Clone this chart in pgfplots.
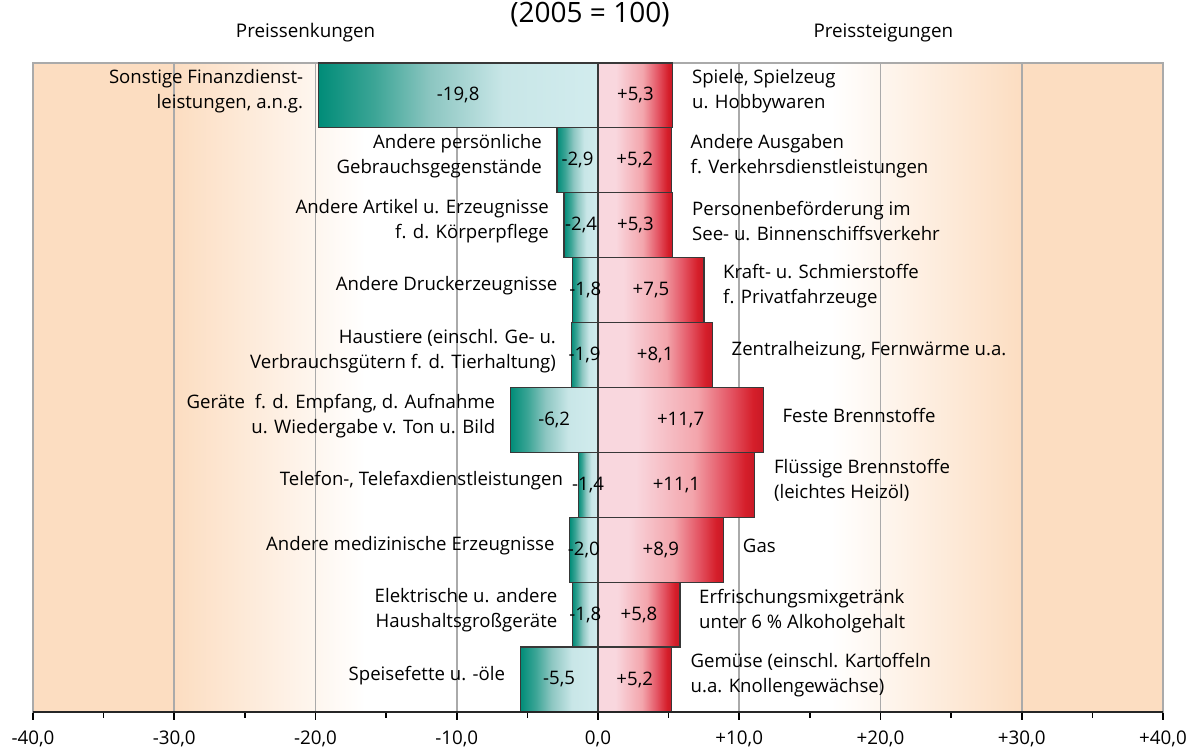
\documentclass[border=0pt]{standalone}
\usepackage{fontspec}
\setmainfont{Open Sans}
\usepackage{pgfplots}
\usepackage{pgfplotstable}
\pgfplotsset{compat=1.18}

\definecolor{tealA}{RGB}{0,140,120}
\definecolor{tealB}{RGB}{60,165,150}
\definecolor{tealM}{RGB}{140,198,193}
\definecolor{cyanL}{RGB}{200,230,231}
\definecolor{cyanE}{RGB}{210,236,238}
\definecolor{pinkL}{RGB}{249,215,222}
\definecolor{pinkM}{RGB}{243,165,172}
\definecolor{pinkD}{RGB}{228,85,100}
\definecolor{redA}{RGB}{213,30,42}
\definecolor{redD}{RGB}{200,25,38}
\definecolor{peach}{RGB}{252,221,193}
\definecolor{gridgray}{RGB}{170,170,170}

\pgfdeclarehorizontalshading{negbar}{100bp}{color(0bp)=(tealA); color(25bp)=(tealA); color(35bp)=(tealB); color(45bp)=(tealM); color(58bp)=(cyanL); color(75bp)=(cyanE); color(100bp)=(cyanE)}
\pgfdeclarehorizontalshading{posbar}{100bp}{color(0bp)=(pinkL); color(37bp)=(pinkL); color(55bp)=(pinkM); color(65bp)=(pinkD); color(72bp)=(redA); color(75bp)=(redD); color(100bp)=(redD)}

\newcommand\lbl{\fontsize{9.3}{12.5}\selectfont}

\pgfplotstableread[col sep=semicolon]{
row;neg;pos;left;right
10;-19.8;5.3;Sonstige Finanzdienst-\\leistungen, a.n.g.;Spiele, Spielzeug\\u. Hobbywaren
9;-2.9;5.2;Andere persönliche\\Gebrauchsgegenstände;Andere Ausgaben\\f. Verkehrsdienstleistungen
8;-2.4;5.3;Andere Artikel u. Erzeugnisse\\f. d. Körperpflege;Personenbeförderung im\\See- u. Binnenschiffsverkehr
7;-1.8;7.5;Andere Druckerzeugnisse;Kraft- u. Schmierstoffe\\f. Privatfahrzeuge
6;-1.9;8.1;Haustiere (einschl. Ge- u.\\Verbrauchsgütern f. d. Tierhaltung);Zentralheizung, Fernwärme u.a.
5;-6.2;11.7;Geräte\ \ f. d. Empfang, d. Aufnahme\\u. Wiedergabe v. Ton u. Bild;Feste Brennstoffe
4;-1.4;11.1;Telefon-, Telefaxdienstleistungen;Flüssige Brennstoffe\\(leichtes Heizöl)
3;-2.0;8.9;Andere medizinische Erzeugnisse;Gas
2;-1.8;5.8;Elektrische u. andere\\Haushaltsgroßgeräte;Erfrischungsmixgetränk\\unter 6 \% Alkoholgehalt
1;-5.5;5.2;Speisefette u. -öle;Gemüse (einschl. Kartoffeln\\u.a. Knollengewächse)
}\data

\begin{document}
\begin{tikzpicture}
\begin{axis}[
  at={(0,0)}, anchor=south west,
  scale only axis, width=565pt, height=324.5pt,
  set layers, clip=false,
  xmin=-40, xmax=40, ymin=0.5, ymax=10.5,
  xtick={-40,-30,...,40},
  xticklabels={{-40,0},{-30,0},{-20,0},{-10,0},{0,0},{+10,0},{+20,0},{+30,0},{+40,0}},
  minor xtick={-35,-25,...,35},
  ytick=\empty,
  xtick pos=left,
  tick align=outside,
  major tick length=4pt, minor tick length=3pt,
  every tick/.style={black, line width=0.8pt},
  xmajorgrids, major grid style={gridgray, line width=0.9pt},
  axis line style={gridgray, line width=0.9pt},
  xticklabel style={font=\fontsize{9.4}{11}\selectfont, yshift=-2pt},
  title={(2005 = 100)},
  title style={at={(0.5,1)}, anchor=base, yshift=14pt, xshift=-4pt, font=\fontsize{14}{16}\selectfont},
]
\begin{pgfonlayer}{axis background}
\fill[peach] (axis cs:-40,0.5) rectangle (axis cs:-30,10.5);
\shade[left color=peach, right color=white] (axis cs:-30,0.5) rectangle (axis cs:-16.5,10.5);
\shade[left color=white, right color=peach] (axis cs:16.5,0.5) rectangle (axis cs:30,10.5);
\fill[peach] (axis cs:30,0.5) rectangle (axis cs:40,10.5);
\end{pgfonlayer}

\pgfplotsinvokeforeach{0,...,9}{
\addplot[xbar, bar width=1, bar shift=0pt, draw=black!78, line width=0.6pt,
  shade, shading=negbar, shading angle=0,
  restrict expr to domain={\coordindex}{#1:#1},
  nodes near coords, point meta=explicit symbolic,
  every node near coord/.append style={anchor=east, align=right, xshift=-4pt, yshift=2pt, font=\lbl, text=black}]
  table[x=neg, y=row, meta=left]{\data};
\addplot[xbar, bar width=1, bar shift=0pt, draw=black!78, line width=0.6pt,
  shade, shading=posbar, shading angle=0,
  restrict expr to domain={\coordindex}{#1:#1},
  nodes near coords, point meta=explicit symbolic,
  every node near coord/.append style={anchor=west, align=left, xshift=6pt, yshift=2pt, font=\lbl, text=black}]
  table[x=pos, y=row, meta=right]{\data};
}

\addplot[only marks, mark=*, mark size=0pt, mark options={draw=none, fill=none},
  point meta=\thisrow{neg},
  nodes near coords={\pgfmathprintnumber[fixed, fixed zerofill, precision=1, use comma, assume math mode=true]{\pgfplotspointmeta}},
  every node near coord/.append style={anchor=center, font=\lbl, text=black}]
  table[x expr=\thisrow{neg}/2, y=row]{\data};
\addplot[only marks, mark=*, mark size=0pt, mark options={draw=none, fill=none},
  point meta=\thisrow{pos},
  nodes near coords={\pgfmathprintnumber[fixed, fixed zerofill, precision=1, use comma, showpos, assume math mode=true]{\pgfplotspointmeta}},
  every node near coord/.append style={anchor=center, font=\lbl, text=black}]
  table[x expr=\thisrow{pos}/2, y=row]{\data};

\draw[black!85, line width=1pt] (axis cs:-40,0.5) -- (axis cs:40,0.5);
\node[anchor=base, yshift=12.5pt, font=\fontsize{9.4}{12}\selectfont] at (axis cs:-20.7,10.5) {Preissenkungen};
\node[anchor=base, yshift=12.5pt, font=\fontsize{9.4}{12}\selectfont] at (axis cs:20.2,10.5) {Preissteigungen};
\end{axis}
\pgfresetboundingbox
\path[use as bounding box] (-16.5pt,-18.5pt) rectangle (578.5pt,356pt);
\end{tikzpicture}
\end{document}
